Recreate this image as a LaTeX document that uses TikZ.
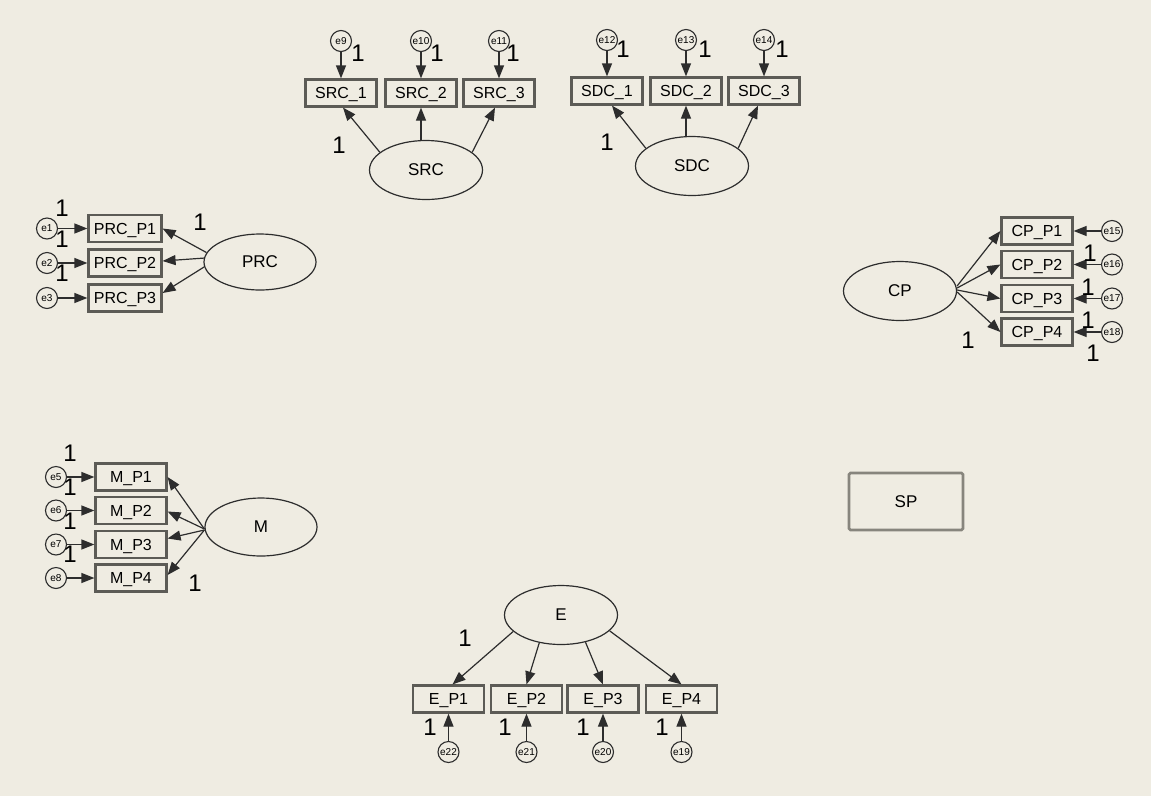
\documentclass[tikz,border=0pt]{standalone}
\usepackage{fontspec}
\setmainfont{Liberation Sans}
\usetikzlibrary{arrows.meta,calc,shapes.geometric}
\definecolor{paper}{RGB}{239,236,226}
\definecolor{ink}{RGB}{45,45,45}
\definecolor{rim}{RGB}{92,91,86}
\definecolor{sprim}{RGB}{135,133,125}

\begin{document}
\begin{tikzpicture}[x=1pt,y=-1pt,
  obs/.style={draw=rim,line width=2.2pt,minimum width=71pt,minimum height=27pt,
              inner sep=0pt,text height=11.5pt,text depth=0pt,
              font=\fontsize{16}{16}\selectfont},
  lat/.style={draw=ink,ellipse,line width=1.2pt,minimum width=113pt,minimum height=59pt,
              inner sep=0pt,font=\fontsize{17}{17}\selectfont},
  err/.style={draw=ink,circle,line width=1.1pt,minimum size=21pt,inner sep=0pt,
              font=\fontsize{10}{10}\selectfont},
  reg/.style={draw=ink,line width=1.2pt,-{Triangle[length=13pt,width=10pt]}},
  wt/.style={inner sep=0pt,font=\fontsize{24}{24}\selectfont}
]
% canvas
\fill[paper] (0,0) rectangle (1151,796);
\useasboundingbox (0,0) rectangle (1151,796);

% ---------- SRC ----------
\node[obs] (src1) at (341,93) {SRC\_1};
\node[obs] (src2) at (421,93) {SRC\_2};
\node[obs] (src3) at (499,93) {SRC\_3};
\node[err] (e9)  at (341,41) {e9};
\node[err] (e10) at (421,41) {e10};
\node[err] (e11) at (499,41) {e11};
\node[lat] (src) at (426,170) {SRC};
\draw[reg] (e9) -- (src1);
\draw[reg] (e10) -- (src2);
\draw[reg] (e11) -- (src3);
\draw[reg] (src.159) -- ($(src1.south)+(2,0)$);
\draw[reg] (src.north -| src2) -- (src2.south);
\draw[reg] (src.21) -- ($(src3.south)+(-4,0)$);
\node[wt] (w9)  at (358,53) {1};
\node[wt] (w10) at (437,53) {1};
\node[wt] (w11) at (513,53) {1};
\node[wt] (wsrc) at (339,145) {1};

% ---------- SDC ----------
\node[obs] (sdc1) at (607,91) {SDC\_1};
\node[obs] (sdc2) at (686,91) {SDC\_2};
\node[obs] (sdc3) at (764,91) {SDC\_3};
\node[err] (e12) at (607,40) {e12};
\node[err] (e13) at (686,40) {e13};
\node[err] (e14) at (764,40) {e14};
\node[lat] (sdc) at (692,166) {SDC};
\draw[reg] (e12) -- (sdc1);
\draw[reg] (e13) -- (sdc2);
\draw[reg] (e14) -- (sdc3);
\draw[reg] (sdc.159) -- ($(sdc1.south)+(5,0)$);
\draw[reg] (sdc.north -| sdc2) -- (sdc2.south);
\draw[reg] (sdc.21) -- ($(sdc3.south)+(-6,0)$);
\node[wt] (w12) at (623,49) {1};
\node[wt] (w13) at (705,49) {1};
\node[wt] (w14) at (782,49) {1};
\node[wt] (wsdc) at (607,142) {1};

% ---------- PRC ----------
\node[obs,minimum width=73pt] (prc1) at (125,228.5) {PRC\_P1};
\node[obs,minimum width=73pt] (prc2) at (125,263) {PRC\_P2};
\node[obs,minimum width=73pt] (prc3) at (125,298) {PRC\_P3};
\node[err] (e1) at (47,228.5) {e1};
\node[err] (e2) at (47,263) {e2};
\node[err] (e3) at (47,298) {e3};
\node[lat,minimum width=112pt,minimum height=56pt] (prc) at (260,262) {PRC};
\draw[reg] (e1) -- (prc1);
\draw[reg] (e2) -- (prc2);
\draw[reg] (e3) -- (prc3);
\draw[reg] (prc.170) -- (prc1.east);
\draw[reg] (prc.176) -- ($(prc2.east)+(0,-2)$);
\draw[reg] (prc.185) -- ($(prc3.east)+(0,-5)$);
\node[wt] (w1) at (62,208) {1};
\node[wt] (w2) at (62,239) {1};
\node[wt] (w3) at (62,273) {1};
\node[wt] (wprc) at (200,222) {1};

% ---------- CP ----------
\node[obs] (cp1) at (1037,231) {CP\_P1};
\node[obs] (cp2) at (1037,264.5) {CP\_P2};
\node[obs] (cp3) at (1037,298.5) {CP\_P3};
\node[obs] (cp4) at (1037,332) {CP\_P4};
\node[err] (e15) at (1112,231) {e15};
\node[err] (e16) at (1112,264.5) {e16};
\node[err] (e17) at (1112,298.5) {e17};
\node[err] (e18) at (1112,332) {e18};
\node[lat] (cp) at (900,291) {CP};
\draw[reg] (e15) -- (cp1);
\draw[reg] (e16) -- (cp2);
\draw[reg] (e17) -- (cp3);
\draw[reg] (e18) -- (cp4);
\draw[reg] ($(cp.east)+(0,-5)$) -- (cp1.west);
\draw[reg] ($(cp.east)+(0,-3)$) -- (cp2.west);
\draw[reg] ($(cp.east)+(0,-1)$) -- (cp3.west);
\draw[reg] ($(cp.east)+(0,1)$) -- (cp4.west);
\node[wt] (w16) at (1090,253) {1};
\node[wt] (w17) at (1088,287) {1};
\node[wt] (w18) at (1088,320) {1};
\node[wt] (w19b) at (1093,353) {1};
\node[wt] (wcp) at (968,340) {1};

% ---------- M ----------
\node[obs] (mp1) at (131,477) {M\_P1};
\node[obs] (mp2) at (131,510.5) {M\_P2};
\node[obs] (mp3) at (131,544.5) {M\_P3};
\node[obs] (mp4) at (131,578) {M\_P4};
\node[err] (e5) at (56,477) {e5};
\node[err] (e6) at (56,510.5) {e6};
\node[err] (e7) at (56,544.5) {e7};
\node[err] (e8) at (56,578) {e8};
\node[lat,minimum width=112pt,minimum height=58pt] (m) at (261,527) {M};
\draw[reg] (e5) -- (mp1);
\draw[reg] (e6) -- (mp2);
\draw[reg] (e7) -- (mp3);
\draw[reg] (e8) -- (mp4);
\draw[reg] ($(m.west)+(0,2)$) -- (mp1.east);
\draw[reg] ($(m.west)+(0,2)$) -- ($(mp2.east)+(0,1)$);
\draw[reg] ($(m.west)+(0,3)$) -- ($(mp3.east)+(0,-6)$);
\draw[reg] ($(m.west)+(0,3)$) -- ($(mp4.east)+(0,-3)$);
\node[wt] (w5) at (70,453) {1};
\node[wt] (w6) at (70,487) {1};
\node[wt] (w7) at (70,521) {1};
\node[wt] (w8) at (70,554) {1};
\node[wt] (wm) at (195,583) {1};

% ---------- E ----------
\node[obs] (ep1) at (448.5,699) {E\_P1};
\node[obs] (ep2) at (526.5,699) {E\_P2};
\node[obs] (ep3) at (603,699) {E\_P3};
\node[obs] (ep4) at (681.5,699) {E\_P4};
\node[err] (e22) at (448.5,752) {e22};
\node[err] (e21) at (526.5,752) {e21};
\node[err] (e20) at (603,752) {e20};
\node[err] (e19) at (681.5,752) {e19};
\node[lat] (e) at (561,615) {E};
\draw[reg] (e22) -- (ep1);
\draw[reg] (e21) -- (ep2);
\draw[reg] (e20) -- (ep3);
\draw[reg] (e19) -- (ep4);
\draw[reg] (e.199) -- ($(ep1.north)+(4,0)$);
\draw[reg] (e.232) -- (ep2.north);
\draw[reg] (e.312) -- (ep3.north);
\draw[reg] (e.342) -- (ep4.north);
\node[wt] (we) at (465,638) {1};
\node[wt] (w22) at (430,727) {1};
\node[wt] (w21) at (505,727) {1};
\node[wt] (w20) at (583,727) {1};
\node[wt] (w19) at (662,727) {1};

% ---------- SP ----------
\node[draw=sprim,line width=2.6pt,rounded corners=1.5pt,minimum width=114pt,
      minimum height=57pt,inner sep=0pt,font=\fontsize{17}{17}\selectfont] (sp) at (906,501.5) {SP};
\end{tikzpicture}
\end{document}
